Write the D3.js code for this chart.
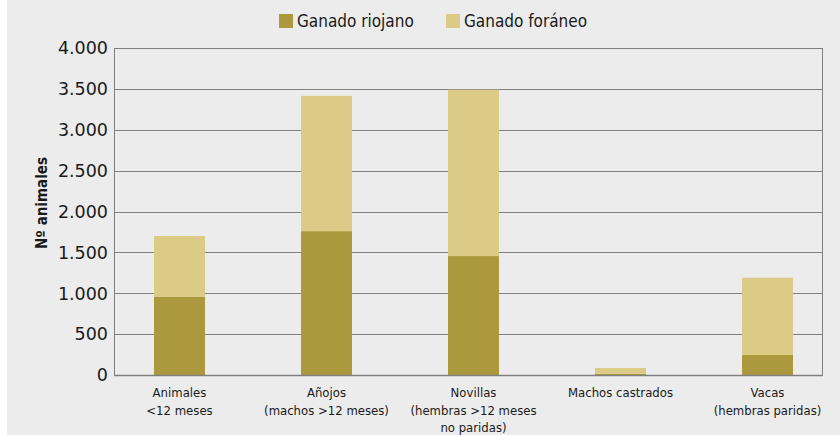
<!DOCTYPE html>
<html>
<head>
<meta charset="utf-8">
<script src="https://cdn.jsdelivr.net/npm/d3@7"></script>
<style>
  body { margin: 0; background: #ffffff; }
  svg text { fill: #1a1a1a; }
</style>
</head>
<body>
<div id="chart"></div>
<script>

// data
var categories = ['Animales|<12 meses', 'Añojos|(machos >12 meses)', 'Novillas|(hembras >12 meses|no paridas)', 'Machos castrados', 'Vacas|(hembras paridas)'];
var riojano = [955, 1760, 1455, 15, 245];
var foraneo = [745, 1655, 2035, 70, 945];
var seriesNames = ['Ganado riojano', 'Ganado foráneo'];
var yTicks = [0, 500, 1000, 1500, 2000, 2500, 3000, 3500, 4000];

var colors = ['#ad993d', '#dccb86'];
var width = 840, height = 435;
var plotLeft = 114, plotRight = 822, plotTop = 48, plotBottom = 375;

var esLocale = d3.formatLocale({ decimal: ',', thousands: '.', grouping: [3], currency: ['', ' €'] });
var fmt = esLocale.format(',d');

var svg = d3.select('#chart')
	.append('svg')
		.attr('width', width)
		.attr('height', height);

svg.append('rect')
		.attr('x', 7)
		.attr('y', 0)
		.attr('width', width - 7)
		.attr('height', height)
		.style('fill', '#ececec');

var y = d3.scaleLinear().domain([0, 4000]).range([plotBottom, plotTop]);
var x = d3.scaleBand()
		.domain(d3.range(categories.length))
		.range([106, 841])
		.paddingInner(0.653)
		.paddingOuter(0.3265);

// gridlines
svg.append('g')
	.selectAll('line')
	.data(yTicks)
	.join('line')
		.attr('x1', plotLeft)
		.attr('x2', plotRight)
		.attr('y1', function(d) { return Math.round(y(d)) + 0.5; })
		.attr('y2', function(d) { return Math.round(y(d)) + 0.5; })
		.style('stroke', '#808080')
		.style('stroke-width', 1);

// stacked bars
var stackData = categories.map(function(c, i) { return { i: i, riojano: riojano[i], foraneo: foraneo[i] }; });
var stacked = d3.stack().keys(['riojano', 'foraneo'])(stackData);

svg.append('g')
	.selectAll('g')
	.data(stacked)
	.join('g')
		.style('fill', function(d, k) { return colors[k]; })
	.selectAll('rect')
	.data(function(d) { return d; })
	.join('rect')
		.attr('x', function(d) { return x(d.data.i); })
		.attr('width', x.bandwidth())
		.attr('y', function(d) { return y(d[1]); })
		.attr('height', function(d) { return y(d[0]) - y(d[1]); });

// frame: left axis, right border, baseline drawn over bars
svg.append('line')
		.attr('x1', plotLeft + 0.5).attr('x2', plotLeft + 0.5)
		.attr('y1', plotTop).attr('y2', plotBottom + 1)
		.style('stroke', '#808080').style('stroke-width', 1);
svg.append('line')
		.attr('x1', plotRight + 0.5).attr('x2', plotRight + 0.5)
		.attr('y1', plotTop).attr('y2', plotBottom + 1)
		.style('stroke', '#808080').style('stroke-width', 1);
svg.append('line')
		.attr('x1', plotLeft).attr('x2', plotRight + 1)
		.attr('y1', Math.round(y(0)) + 0.5).attr('y2', Math.round(y(0)) + 0.5)
		.style('stroke', '#808080').style('stroke-width', 1.5);

// y tick labels
svg.append('g')
	.selectAll('text')
	.data(yTicks)
	.join('text')
		.attr('x', 108)
		.attr('y', function(d) { return y(d); })
		.attr('dy', '0.36em')
		.attr('text-anchor', 'end')
		.style('font-family', '"DejaVu Sans", sans-serif')
		.style('font-size', '17.5px')
		.text(function(d) { return fmt(d); });

// y axis title
svg.append('text')
		.attr('transform', 'translate(47,203) rotate(-90)')
		.attr('text-anchor', 'middle')
		.style('font-family', '"DejaVu Sans Condensed", "DejaVu Sans", sans-serif')
		.style('font-weight', 'bold')
		.style('font-size', '15px')
		.text('Nº animales');

// category labels
var catG = svg.append('g')
	.selectAll('text')
	.data(categories)
	.join('text')
		.attr('text-anchor', 'middle')
		.style('font-family', '"DejaVu Sans Condensed", sans-serif')
		.style('font-size', '13px')
		.attr('x', function(d, i) { return x(i) + x.bandwidth() / 2; })
		.attr('y', 397);

catG.selectAll('tspan')
	.data(function(d) { return d.split('|'); })
	.join('tspan')
		.attr('x', function() { return d3.select(this.parentNode).attr('x'); })
		.attr('dy', function(d, j) { return j == 0 ? 0 : 17.5; })
		.text(function(d) { return d; });

// legend
var legendX = [279, 446];
var legend = svg.append('g')
	.selectAll('g')
	.data(seriesNames)
	.join('g')
		.attr('transform', function(d, i) { return 'translate(' + legendX[i] + ',14)'; });

legend.append('rect')
		.attr('width', 14)
		.attr('height', 14)
		.style('fill', function(d, i) { return colors[i]; });

legend.append('text')
		.attr('x', 18)
		.attr('y', 7)
		.attr('dy', '0.35em')
		.style('font-family', '"DejaVu Sans Condensed", sans-serif')
		.style('font-size', '17px')
		.text(function(d) { return d; });

</script>
</body>
</html>
